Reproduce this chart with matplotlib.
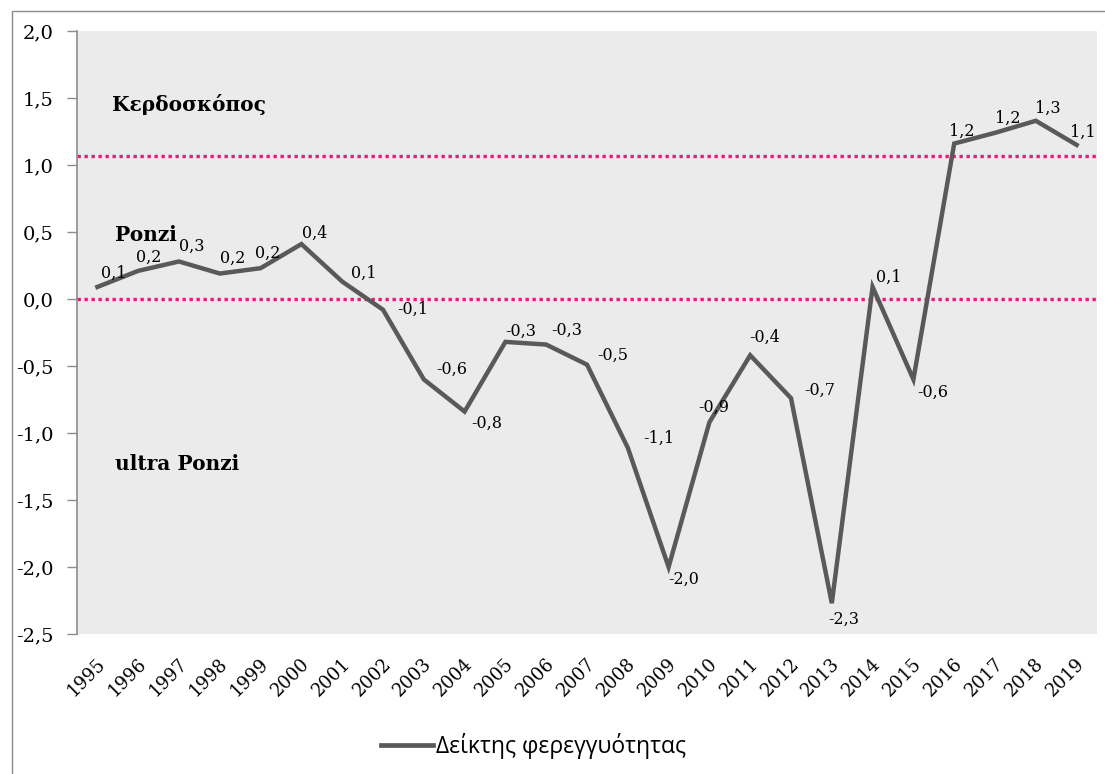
import matplotlib
matplotlib.use("Agg")
import matplotlib.pyplot as plt
import matplotlib.transforms as mtransforms
from matplotlib.lines import Line2D
from matplotlib.patches import Rectangle

years = [str(y) for y in range(1995, 2020)]
values = [0.09, 0.21, 0.28, 0.19, 0.23, 0.41, 0.13, -0.08, -0.60, -0.84,
          -0.32, -0.34, -0.49, -1.11, -2.00, -0.92, -0.42, -0.74, -2.27, 0.09,
          -0.60, 1.16, 1.24, 1.33, 1.15]
labels = ["0,1", "0,2", "0,3", "0,2", "0,2", "0,4", "0,1", "-0,1", "-0,6", "-0,8",
          "-0,3", "-0,3", "-0,5", "-1,1", "-2,0", "-0,9", "-0,4", "-0,7", "-2,3", "0,1",
          "-0,6", "1,2", "1,2", "1,3", "1,1"]
thresholds = [1.07, 0.0]
zones = ["Κερδοσκόπος", "Ponzi", "ultra Ponzi"]
zone_y = [1.45, 0.48, -1.23]
yticks = [2.0, 1.5, 1.0, 0.5, 0.0, -0.5, -1.0, -1.5, -2.0, -2.5]
series_name = "Δείκτης φερεγγυότητας"

# label offsets in pixels (dx, dy) - placement only
offsets = [(16, 14), (10, 14), (13, 15), (13, 15), (7, 15), (13, 11), (22, 8), (30, 0),
           (28, 10), (22, -12), (15, 11), (21, 14), (26, 9), (31, 9), (15, -12),
           (4, 15), (14, 18), (29, 8), (12, -16), (16, 10), (19, -13), (8, 12),
           (13, 15), (12, 12), (6, 13)]

W, H = 1105, 774
fig = plt.figure(figsize=(W / 100, H / 100), dpi=100)
fig.patch.set_facecolor("white")

# outer chart frame
fig.patches.append(Rectangle((11.5 / W, -0.1), 1.2, 1 - 11.5 / H + 0.1, transform=fig.transFigure,
                             fill=False, edgecolor="#8c8c8c", linewidth=1.0))

ax = fig.add_axes([77 / W, 1 - 634 / H, (1097 - 77) / W, (634 - 31) / H])
ax.set_facecolor("#ebebeb")

x = list(range(len(years)))
ax.set_xlim(-0.5, len(years) - 0.5)
ax.set_ylim(-2.5, 2.0)

for t in thresholds:
    ax.axhline(t, color="#f0147d", linewidth=2.4, linestyle=(0, (1, 1.1)), zorder=2)

ax.plot(x, values, color="#595959", linewidth=3.2, solid_joinstyle="miter", zorder=3)

serif = "DejaVu Serif"
for xi, v, lab, (dx, dy) in zip(x, values, labels, offsets):
    ax.annotate(lab, (xi, v), xytext=(dx * 0.72, dy * 0.72), textcoords="offset points",
                ha="center", va="center", fontsize=11.5, family=serif, color="black", zorder=4)

zone_x = [0.36, 0.43, 0.43]
for z, zx, zy in zip(zones, zone_x, zone_y):
    ax.text(zx, zy, z, fontsize=14.5, fontweight="bold", family=serif,
            ha="left", va="center", color="black")

ax.set_yticks(yticks)
ax.set_yticklabels([f"{t:.1f}".replace(".", ",") for t in yticks], fontsize=14, family=serif)
ax.set_xticks(x)
ax.set_xticklabels(years, rotation=45, ha="right", va="top", rotation_mode="anchor",
                   fontsize=13, family=serif)
ax.tick_params(axis="y", length=7, width=1, color="#8c8c8c", pad=10)
ax.tick_params(axis="x", length=0, pad=15)
for lbl in ax.get_xticklabels():
    lbl.set_transform(lbl.get_transform() + mtransforms.ScaledTranslation(-1 / 100, 0, fig.dpi_scale_trans))

for s in ["top", "right", "bottom"]:
    ax.spines[s].set_visible(False)
ax.spines["left"].set_color("#8c8c8c")
ax.spines["left"].set_linewidth(1.2)

handle = Line2D([], [], color="#595959", linewidth=3.4)
fig.legend([handle], [series_name], loc="center", bbox_to_anchor=(533 / W, 1 - 746 / H),
           frameon=False, handlelength=2.3, handletextpad=0.1,
           prop={"family": "Open Sans", "size": 16.5})

fig.savefig("out.png", dpi=100)
